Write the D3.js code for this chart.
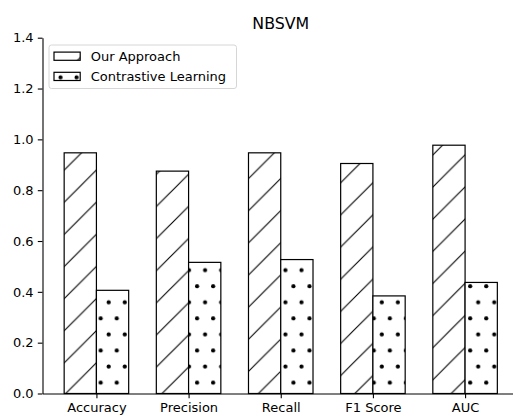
<!DOCTYPE html>
<html>
<head>
<meta charset="utf-8">
<script src="https://cdn.jsdelivr.net/npm/d3@7"></script>
<style>
  html, body { margin: 0; padding: 0; background: #fff; }
  svg { display: block; font-family: "DejaVu Sans", sans-serif; }
</style>
</head>
<body>
<svg id="chart" width="513" height="415"></svg>
<script>
// Metrics compared for the NBSVM classifier
const categories = ["Accuracy", "Precision", "Recall", "F1 Score", "AUC"];
const seriesNames = ["Our Approach", "Contrastive Learning"];
const ourApproach = [0.947, 0.875, 0.947, 0.905, 0.977];
const contrastive = [0.406, 0.516, 0.527, 0.384, 0.437];
const yTicks = [0.0, 0.2, 0.4, 0.6, 0.8, 1.0, 1.2, 1.4];
const chartTitle = "NBSVM";

const svg = d3.select("#chart");
const barWidth = 0.35;

const x = d3.scaleLinear().domain([-0.585, 4.585]).range([42.5, 519]);
const y = d3.scaleLinear().domain([0, 1.4]).range([393.5, 37.7]);

// Hatch fills, anchored to the page so the legend swatches share the same phase
const defs = svg.append("defs");
const P = 32.13;
const hatch = defs.append("pattern")
  .attr("id", "hatchDiag")
  .attr("patternUnits", "userSpaceOnUse")
  .attr("x", 9.4).attr("y", 0)
  .attr("width", P).attr("height", P);
hatch.append("rect").attr("width", P).attr("height", P).attr("fill", "#fff");
hatch.append("path")
  .attr("d", `M-2,${P + 2}L${P + 2},-2 M-2,2L2,-2 M${P - 2},${P + 2}L${P + 2},${P - 2}`)
  .attr("stroke", "#000").attr("stroke-width", 1.1).attr("fill", "none");

const dw = P / 2;
const dots = defs.append("pattern")
  .attr("id", "hatchDots")
  .attr("patternUnits", "userSpaceOnUse")
  .attr("x", 0.28).attr("y", 21.27)
  .attr("width", dw).attr("height", P);
dots.append("rect").attr("width", dw).attr("height", P).attr("fill", "#fff");
dots.append("circle").attr("cx", 4).attr("cy", 8).attr("r", 2.1).attr("fill", "#000");
dots.append("circle").attr("cx", 4 + dw / 2).attr("cy", 8 + dw).attr("r", 2.1).attr("fill", "#000");

const fills = ["url(#hatchDiag)", "url(#hatchDots)"];
const seriesValues = [ourApproach, contrastive];
const offsets = [-barWidth / 2, barWidth / 2];

// Bars
seriesValues.forEach((vals, s) => {
  svg.append("g").selectAll("rect")
    .data(vals)
    .join("rect")
    .attr("x", (d, i) => x(i + offsets[s] - barWidth / 2))
    .attr("width", (d, i) => x(i + offsets[s] + barWidth / 2) - x(i + offsets[s] - barWidth / 2))
    .attr("y", d => y(d))
    .attr("height", d => y(0) - y(d))
    .attr("fill", fills[s])
    .attr("stroke", "#000")
    .attr("stroke-width", 1.2);
});

// Axes
const tickLen = 4.7;
const yAxis = svg.append("g")
  .attr("transform", "translate(42.5,0)")
  .call(d3.axisLeft(y).tickValues(yTicks).tickFormat(d3.format(".1f"))
    .tickSize(tickLen).tickSizeOuter(0).tickPadding(4.2));
const xAxis = svg.append("g")
  .attr("transform", "translate(0,393.5)")
  .call(d3.axisBottom(x).tickValues(d3.range(categories.length))
    .tickFormat(i => categories[i]).tickSize(tickLen).tickSizeOuter(0).tickPadding(4.5));

[yAxis, xAxis].forEach(g => {
  g.selectAll("path.domain").attr("stroke", "#000").attr("stroke-width", 1.1);
  g.selectAll(".tick line").attr("stroke", "#000").attr("stroke-width", 1.1);
  g.selectAll(".tick text")
    .attr("fill", "#000")
    .style("font-family", "DejaVu Sans, sans-serif")
    .style("font-size", "13px");
});

// Title
svg.append("text")
  .attr("x", (x.range()[0] + x.range()[1]) / 2)
  .attr("y", 29)
  .attr("text-anchor", "middle")
  .style("font-size", "15.8px")
  .attr("fill", "#000")
  .text(chartTitle);

// Legend
const legend = svg.append("g");
legend.append("rect")
  .attr("x", 49).attr("y", 45)
  .attr("width", 187.5).attr("height", 43.5)
  .attr("rx", 2.5)
  .attr("fill", "#fff").attr("fill-opacity", 0.8)
  .attr("stroke", "#d6d6d6").attr("stroke-width", 1);
const rowY = [56.3, 76.5];
seriesNames.forEach((name, s) => {
  legend.append("rect")
    .attr("x", 54).attr("y", rowY[s] - 4.2)
    .attr("width", 26.2).attr("height", 8.2)
    .attr("fill", fills[s])
    .attr("stroke", "#000").attr("stroke-width", 1.2);
  legend.append("text")
    .attr("x", 90.7).attr("y", rowY[s])
    .attr("dy", "0.35em")
    .style("font-size", "13px")
    .attr("fill", "#000")
    .text(name);
});
</script>
</body>
</html>
